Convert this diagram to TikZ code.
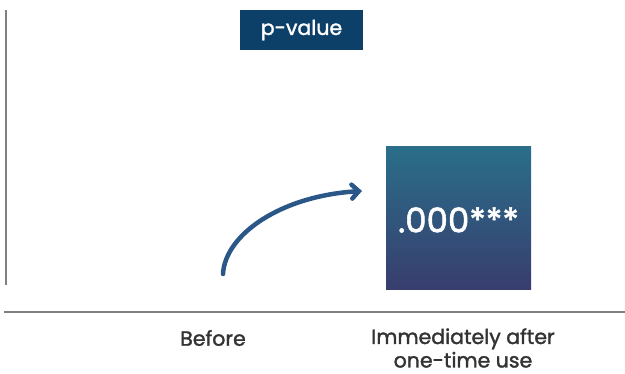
\documentclass[tikz,border=0pt]{standalone}
\usepackage{fontspec}
\setmainfont{Poppins}
\newfontfamily\popm[FakeBold=1.6]{Poppins}
\definecolor{pbox}{HTML}{0C4068}
\definecolor{gtop}{HTML}{2A6E8A}
\definecolor{gbot}{HTML}{383D6E}
\definecolor{arr}{HTML}{2A5788}
\definecolor{axisc}{HTML}{808080}
\definecolor{lbl}{HTML}{333333}
\usetikzlibrary{arrows.meta}
\begin{document}
\begin{tikzpicture}[x=1pt,y=-1pt,
  axisline/.style={draw=axisc,line width=2pt},
  lab/.style={text=lbl,font=\popm\fontsize{20.5}{23.5}\selectfont,align=center,inner sep=0pt}]
\useasboundingbox (0,0) rectangle (625,374);
\coordinate (vt) at (6,10);
\coordinate (vb) at (6,285);
\draw[axisline] (vt) -- (vb);
\coordinate (hl) at (4,312);
\coordinate (hr) at (625,312);
\draw[axisline] (hl) -- (hr);
\node[fill=pbox,minimum width=123pt,minimum height=40pt,inner sep=0pt,text=white,font=\popm\fontsize{20.5}{22}\selectfont] (pv) at (301.5,30) {p-value};
\shade[top color=gtop,bottom color=gbot] (386,147) rectangle (531,290);
\node[text=white,font=\popm\fontsize{34}{38}\selectfont,inner sep=0pt] (val) at (458.5,220) {.000***};
\coordinate (a0) at (223,274);
\coordinate (a1) at (362,191);
\draw[arr,line width=4.5pt,line cap=round,-{Straight Barb[length=7pt,width=14pt,line cap=round]}] (a0) .. controls (225,235) and (280,196) .. (a1);
\node[lab] (before) at (213,338) {Before};
\node[lab] (after) at (463,348) {Immediately after\\one-time use};
\end{tikzpicture}
\end{document}
